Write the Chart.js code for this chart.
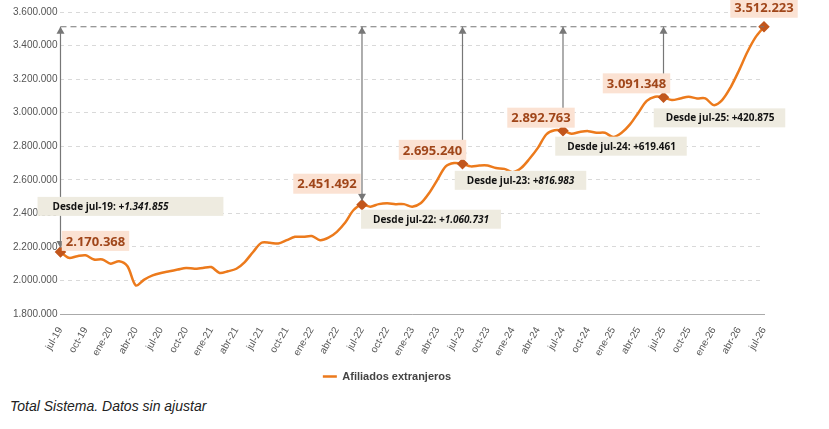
<!DOCTYPE html>
<html><head><meta charset="utf-8">
<script src="https://cdn.jsdelivr.net/npm/chart.js@4/dist/chart.umd.min.js"></script>
<style>body{margin:0;background:#fff;font-family:"Liberation Sans",Arial,sans-serif}
#w{width:829px;height:392px;position:relative}
#f{position:absolute;left:10px;top:398px;font-style:italic;font-size:14px;color:#222}</style>
</head><body><div id="w"><canvas id="c" width="829" height="392"></canvas></div><div id="f">Total Sistema. Datos sin ajustar</div>
<script>
const months=["ene","feb","mar","abr","may","jun","jul","ago","sep","oct","nov","dic"];
const labels=[];
for(let y=19;y<=26;y++)for(let m=0;m<12;m++){if((y===19&&m<6)||(y===26&&m>6))continue;labels.push(months[m]+"-"+y);}
const values=[2170368,2135000,2145000,2150000,2125000,2125000,
2100000,2115000,2085000,1970000,2005000,2030000,2045000,2055000,2065000,2075000,2070000,2075000,
2080000,2045000,2055000,2070000,2110000,2170000,2225000,2225000,2220000,2240000,2260000,2260000,
2265000,2240000,2255000,2290000,2345000,2420000,2451492,2440000,2455000,2460000,2455000,2455000,
2440000,2460000,2520000,2600000,2680000,2700000,2695240,2680000,2685000,2685000,2670000,2665000,
2645000,2670000,2725000,2790000,2870000,2895000,2892763,2875000,2885000,2890000,2880000,2880000,
2855000,2880000,2930000,3000000,3070000,3095000,3091348,3075000,3085000,3095000,3085000,3085000,
3045000,3075000,3150000,3250000,3360000,3450000,3512223];
const markIdx=[0,36,48,60,72,84];
const valueLabels=["2.170.368","2.451.492","2.695.240","2.892.763","3.091.348","3.512.223"];
const deltaLabels=["+1.341.855","+1.060.731","+816.983","+619.461","+420.875"];
const deltaFrom=["jul-19","jul-22","jul-23","jul-24","jul-25"];
const valOff=[[35,-11],[-35,-21],[-30,-14],[-22,-13],[-27,-14],[0,-19]];
const delOff=[[70,-46],[69,14],[58,16],[58,15],[56,20]];
const fmt=v=>v.toString().replace(/\B(?=(\d{3})+(?!\d))/g,".");
const ann={id:"ann",afterDatasetsDraw(ch){
 const c=ch.ctx,x=ch.scales.x,y=ch.scales.y;const last=values[values.length-1];const yt=y.getPixelForValue(last);
 c.save();c.strokeStyle="#777";c.lineWidth=1.2;c.setLineDash([6,4]);c.beginPath();c.moveTo(x.getPixelForValue(0),yt);c.lineTo(x.getPixelForValue(84),yt);c.stroke();c.setLineDash([]);
 c.fillStyle="#777";
 markIdx.slice(0,5).forEach(i=>{const px=x.getPixelForValue(i),py=y.getPixelForValue(values[i])-4;
  c.beginPath();c.moveTo(px,yt);c.lineTo(px,py);c.stroke();
  c.beginPath();c.moveTo(px,py);c.lineTo(px-4,py-7);c.lineTo(px+4,py-7);c.fill();
  c.beginPath();c.moveTo(px,yt);c.lineTo(px-4,yt+7);c.lineTo(px+4,yt+7);c.fill();});
 c.textBaseline="middle";c.textAlign="center";
 markIdx.forEach((i,k)=>{const px=x.getPixelForValue(i)+valOff[k][0],py=y.getPixelForValue(values[i])+valOff[k][1];
  c.font="bold 13px 'Open Sans'";const w=c.measureText(valueLabels[k]).width+8;
  c.fillStyle="#fbe2d3";c.fillRect(px-w/2,py-10,w,20);c.fillStyle="#a0461a";c.fillText(valueLabels[k],px,py+1);});
 deltaLabels.forEach((t,k)=>{const i=markIdx[k];const px=x.getPixelForValue(i)+delOff[k][0],py=y.getPixelForValue(values[i])+delOff[k][1];
  const a="Desde "+deltaFrom[k]+": ";c.font="bold 10px 'Open Sans'";const wa=c.measureText(a).width;
  c.font="italic bold 10px 'Open Sans'";const wb=c.measureText(t).width;const W=wa+wb+ (k===0?70:24);
  c.fillStyle="#eeebe0";c.fillRect(px-W/2,py-9,W,19);c.fillStyle="#111";c.textAlign="left";
  const sx=px-(wa+wb)/2-(k===0?20:0);c.font="bold 10px 'Open Sans'";c.fillText(a,sx,py+1);c.font=(k<=2?"italic ":"")+"bold 10px 'Open Sans'";c.fillText(t,sx+wa,py+1);c.textAlign="center";});
 c.restore();}};
new Chart(document.getElementById("c"),{type:"line",
 data:{labels,datasets:[{label:"Afiliados extranjeros",data:values,borderColor:"#ec7a1c",backgroundColor:"#ec7a1c",borderWidth:2.5,tension:0.3,
  pointRadius:values.map((v,i)=>markIdx.includes(i)?4:0),pointBackgroundColor:"#c2561c",pointBorderColor:"#c2561c",pointStyle:"rectRot"}]},
 options:{responsive:false,animation:false,layout:{padding:{left:10,right:65,top:12,bottom:0}},
  scales:{y:{min:1800000,max:3600000,ticks:{stepSize:200000,callback:v=>fmt(v),color:"#555",font:{size:10,family:"Liberation Sans"}},grid:{color:"#d9d9d9",drawTicks:false},border:{display:false,dash:[4,4]}},
   x:{ticks:{autoSkip:false,maxRotation:60,minRotation:60,color:"#555",font:{size:10,family:"Liberation Sans"},callback:(v,i)=>i%3===0?labels[i]:""},grid:{display:false},border:{color:"#aaa"}}},
  plugins:{legend:{position:"bottom",labels:{boxWidth:14,boxHeight:0,color:"#444",font:{weight:"bold",size:11,family:"Liberation Sans"}}},tooltip:{enabled:false}}},
 plugins:[ann]});
</script></body></html>
